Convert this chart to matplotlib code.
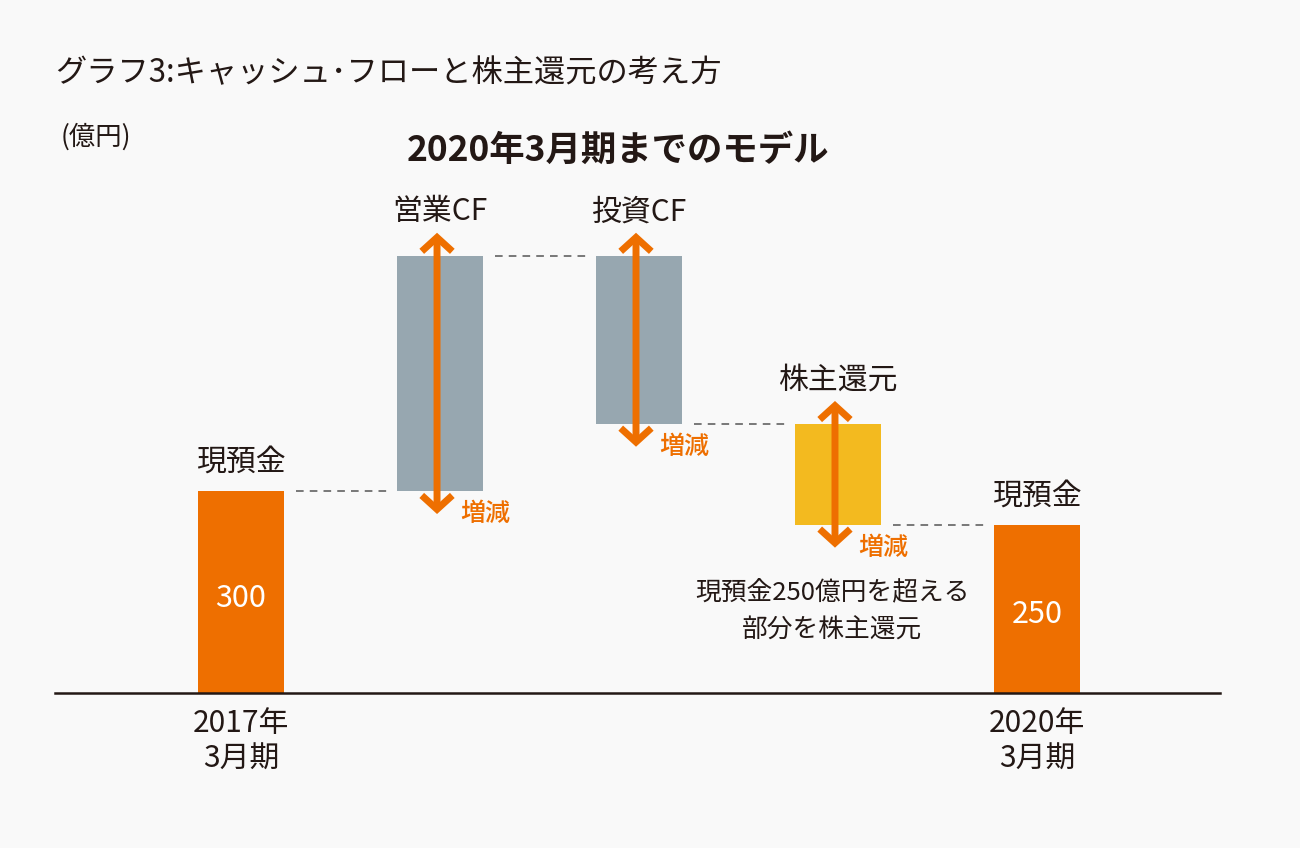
import matplotlib
matplotlib.use("Agg")
import matplotlib.pyplot as plt
from matplotlib.patches import FancyArrowPatch

plt.rcParams['font.family'] = ['Noto Sans CJK JP', 'DejaVu Sans']

# ---- data ----
step_labels = ['現預金', '営業CF', '投資CF', '株主還元', '現預金']
start_cash = 300
changes = [350, -250, -150]
end_cash = 250
period_labels = ['2017年\n3月期', '2020年\n3月期']
value_labels = ['300', '250']
change_label = '増減'
title = 'グラフ3:キャッシュ･フローと株主還元の考え方'
subtitle = '2020年3月期までのモデル'
unit = '(億円)'
note = '現預金250億円を超える\n部分を株主還元'

# ---- styles ----
BG = '#f9f9f9'
ORANGE = '#ee6f00'
GRAY = '#97a7b0'
YELLOW = '#f3ba1f'
DARK = '#231815'

W, H = 1300, 848
fig = plt.figure(figsize=(W / 100, H / 100), dpi=100, facecolor=BG)
ax = fig.add_axes([55 / W, (H - 693) / H, 1165 / W, 471 / H])
ax.set_facecolor(BG)
ax.set_xlim(-0.935, 4.92)
ax.set_ylim(0, 700)

bw = 0.432
# compute floating bars
bottoms, tops = [0], [start_cash]
level = start_cash
for c in changes:
    new = level + c
    bottoms.append(min(level, new))
    tops.append(max(level, new))
    level = new
bottoms.append(0)
tops.append(end_cash)
colors = [ORANGE, GRAY, GRAY, YELLOW, ORANGE]
xs = list(range(len(step_labels)))

ax.bar(xs, [t - b for t, b in zip(tops, bottoms)], bottom=bottoms, width=bw,
       color=colors, zorder=2)

# connectors
levels = [start_cash]
lv = start_cash
for c in changes:
    lv += c
    levels.append(lv)
for i, lvl in enumerate(levels):
    ax.plot([i + bw / 2 + 0.06, i + 1 - bw / 2 - 0.04], [lvl, lvl],
            color='#555555', lw=1.1, dashes=(5, 4), zorder=1)

# arrows
for i in (1, 2, 3):
    a = FancyArrowPatch((i - 0.015, bottoms[i] - 34), (i - 0.015, tops[i] + 34),
                        arrowstyle='<->,head_length=0.5,head_width=0.55',
                        mutation_scale=20, color=ORANGE, lw=5,
                        shrinkA=0, shrinkB=0, zorder=3, joinstyle='miter',
                        capstyle='butt')
    ax.add_patch(a)
    ax.annotate(change_label, (i, bottoms[i]), xytext=(20 * 0.72, -23 * 0.72),
                textcoords='offset points', ha='left', va='center',
                fontsize=18, color=ORANGE, fontweight='medium')

# labels above bars
for i, lab in enumerate(step_labels):
    off = 44 if i in (1, 2, 3) else 29
    ax.annotate(lab, (i, tops[i]), xytext=(0, off * 0.72), textcoords='offset points',
                ha='center', va='center', fontsize=21.5, color=DARK)

# values inside cash bars
for i, v in zip((0, 4), value_labels):
    ax.annotate(v, (i, tops[i] / 2), xytext=(0, -6 * 0.72), textcoords='offset points',
                ha='center', va='center', fontsize=22, color='white')

# note
ax.text(2.97, 120, note, ha='center', va='center', fontsize=18.5, color=DARK,
        linespacing=1.55)

# axes styling
for s in ('top', 'right', 'left'):
    ax.spines[s].set_visible(False)
ax.spines['bottom'].set_color(DARK)
ax.spines['bottom'].set_linewidth(1.8)
ax.set_yticks([])
ax.set_xticks([0, 4])
ax.set_xticklabels(period_labels, fontsize=21.5, color=DARK, linespacing=1.2)
ax.tick_params(axis='x', length=0, pad=11)

# titles
fig.text(55 / W, 1 - 73 / H, title, ha='left', va='center', fontsize=22.5, color=DARK)
fig.text(61 / W, 1 - 137 / H, unit, ha='left', va='center', fontsize=19, color=DARK)
fig.text(618 / W, 1 - 150 / H, subtitle, ha='center', va='center', fontsize=25.5,
         color=DARK, fontweight='bold')

fig.savefig('out.png', dpi=100, facecolor=BG)
